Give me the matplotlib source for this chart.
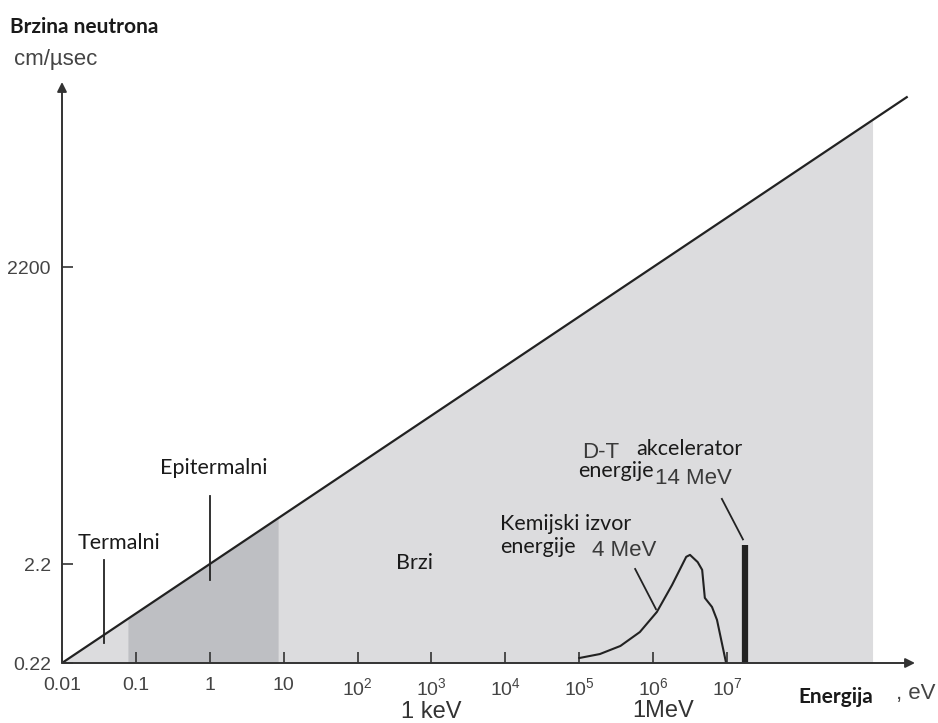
import numpy as np
import matplotlib.pyplot as plt

# Energija (eV) i brzina (cm/us): v = 2.2 * sqrt(E)
e_line = [0.01, 2.7e9]
v_line = [2.2 * np.sqrt(e) for e in e_line]

# Podrucja (eV)
e_fill_end = 9.3e8
e_epi = [0.078, 8.4]

# Spektar fisije (kemijski izvor)
e_fis = [1.0e5, 1.9e5, 3.6e5, 6.6e5, 1.12e6, 1.8e6, 2.8e6, 3.15e6, 4.0e6, 4.6e6, 5.0e6, 6.25e6, 7.3e6, 9.7e6]
v_fis = [0.247, 0.271, 0.327, 0.452, 0.72, 1.35, 2.6, 2.72, 2.3, 1.92, 1.0, 0.81, 0.6, 0.22]

# D-T akcelerator 14 MeV
e_dt = 1.75e7
v_dt = 3.43

# Oznake osi
x_ticks = [0.01, 0.1, 1, 10, 1e2, 1e3, 1e4, 1e5, 1e6, 1e7]
x_labels = ['0.01', '0.1', '1', '10', '$10^2$', '$10^3$', '$10^4$', '$10^5$', '$10^6$', '$10^7$']
y_ticks = [0.22, 2.2, 2200]
y_labels = ['0.22', '2.2', '2200']

# Pokazivaci (E, v) od - do
lead_term = [(0.037, 0.35), (0.037, 2.4)]
lead_epi = [(1.0, 1.5), (1.0, 10.7)]
lead_4mev = [(5.7e5, 1.96), (1.09e6, 0.77)]
lead_14mev = [(8.5e6, 10.0), (1.64e7, 3.9)]

narrow = ['Liberation Sans', 'DejaVu Sans']
calib = ['Lato', 'DejaVu Sans']
plt.rcParams['mathtext.fontset'] = 'custom'
plt.rcParams['mathtext.rm'] = 'Liberation Sans'
plt.rcParams['mathtext.it'] = 'Liberation Sans'

W, H = 938, 723
fig = plt.figure(figsize=(W / 100, H / 100), dpi=100)
ax = fig.add_axes([62 / W, (H - 663) / H, (915 - 62) / W, (663 - 82) / H])
ax.set_xscale('log')
ax.set_yscale('log')
ax.set_xlim(0.01, 10 ** 9.543)
ax.set_ylim(0.22, 0.22 * 10 ** 5.869)

# sjencanje ispod pravca
ef = np.logspace(-2, np.log10(e_fill_end), 200)
ax.fill_between(ef, 0.22, 2.2 * np.sqrt(ef), color='#dcdcde', lw=0, zorder=1)
ee = np.logspace(np.log10(e_epi[0]), np.log10(e_epi[1]), 100)
ax.fill_between(ee, 0.22, 2.2 * np.sqrt(ee), color='#bebfc3', lw=0, zorder=1)

ax.plot(e_line, v_line, color='#222222', lw=1.6, zorder=3)
ax.plot(e_fis, v_fis, color='#222222', lw=1.5, zorder=3)
ax.plot([e_dt, e_dt], [0.22, v_dt], color='#222222', lw=4.5, solid_capstyle='butt', zorder=3)

for seg in [lead_term, lead_epi, lead_4mev, lead_14mev]:
    ax.plot([seg[0][0], seg[1][0]], [seg[0][1], seg[1][1]], color='#222222', lw=1.3, zorder=3)

# osi sa strelicama
for s in ax.spines.values():
    s.set_visible(False)
ax.annotate('', xy=(1, 0), xytext=(0, 0), xycoords='axes fraction',
            arrowprops=dict(arrowstyle='-|>', lw=1.4, color='#333333', shrinkA=0, shrinkB=0,
                            mutation_scale=14))
ax.annotate('', xy=(0, 1), xytext=(0, 0), xycoords='axes fraction',
            arrowprops=dict(arrowstyle='-|>', lw=1.4, color='#333333', shrinkA=0, shrinkB=0,
                            mutation_scale=14))

ax.set_xticks(x_ticks)
ax.set_xticklabels(x_labels, fontfamily=narrow)
ax.set_yticks(y_ticks)
ax.set_yticklabels(y_labels, fontfamily=narrow)
ax.minorticks_off()
ax.tick_params(axis='x', direction='in', length=8, width=1.2, color='#333333',
               labelsize=14, labelcolor='#444444', pad=10)
ax.tick_params(axis='y', direction='in', length=8, width=1.2, color='#333333',
               labelsize=14, labelcolor='#444444', pad=8)


def ftext(x, y, s, **kw):
    fig.text(x / W, 1 - y / H, s, **kw)


lab = dict(ha='left', va='center', fontsize=15.5, family=calib, color='#1a1a1a')
grey = dict(ha='left', va='center', fontsize=16, family=narrow, color='#3a3a3a')

ftext(10, 27, 'Brzina neutrona', ha='left', va='center', fontsize=15, fontweight='bold',
      family=calib, color='#1a1a1a')
ftext(14, 60, 'cm/µsec', ha='left', va='center', fontsize=16, family=narrow, color='#444444')
ftext(431, 712, '1 keV', ha='center', va='center', fontsize=17, family=narrow, color='#333333')
ftext(663, 711, '1MeV', ha='center', va='center', fontsize=17, family=narrow, color='#333333')
ftext(798, 697, 'Energija', ha='left', va='center', fontsize=15, fontweight='bold',
      family=calib, color='#1a1a1a')
ftext(896, 694, ', eV', ha='left', va='center', fontsize=16, family=narrow, color='#444444')

ftext(78, 543, 'Termalni', **lab)
ftext(160, 468, 'Epitermalni', **lab)
ftext(396, 563, 'Brzi', **lab)
ftext(582, 452, 'D-T', **grey)
ftext(636, 449, 'akcelerator', **lab)
ftext(578, 471, 'energije', **lab)
ftext(655, 479, '14 MeV', **grey)
ftext(500, 524, 'Kemijski izvor', **lab)
ftext(500, 547, 'energije', **lab)
ftext(592, 551, '4 MeV', **grey)

plt.savefig('out.png', dpi=100)
